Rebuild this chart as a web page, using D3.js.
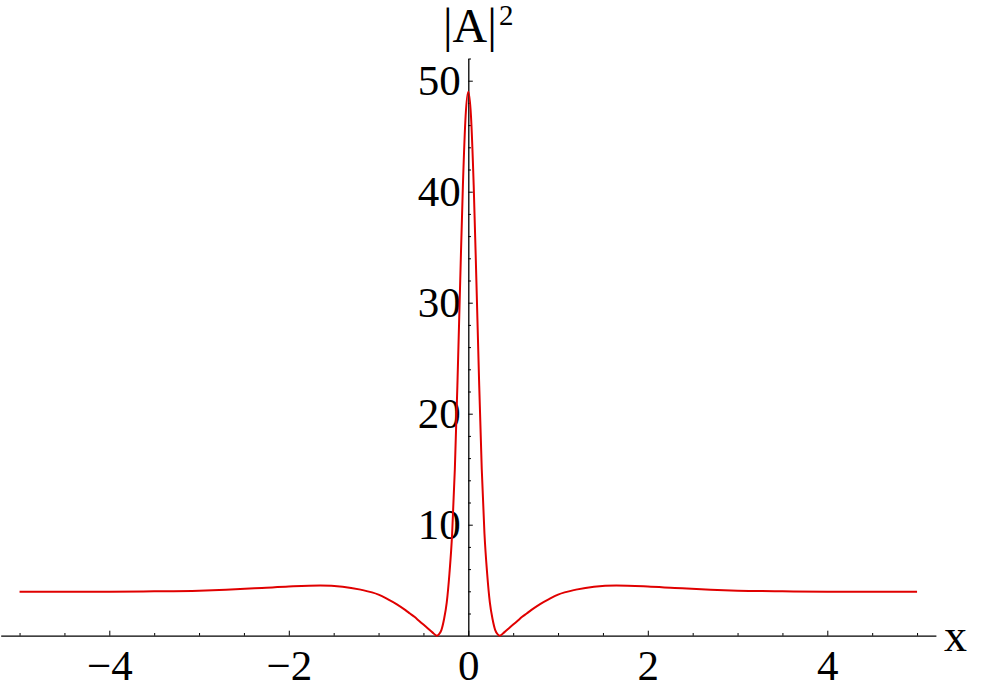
<!DOCTYPE html>
<html>
<head>
<meta charset="utf-8">
<script src="https://cdn.jsdelivr.net/npm/d3@7"></script>
<style>
  html, body { margin: 0; padding: 0; background: #fff; }
  svg { display: block; }
</style>
</head>
<body>
<svg id="chart" width="1000" height="692"></svg>
<script>
// ---- data ----
const xValues = [
  -5, -4, -3.5, -3, -2.7, -2.3, -2, -1.65, -1.4, -1.2, -1, -0.9, -0.8, -0.7, -0.65, -0.6,
  -0.55, -0.5, -0.45, -0.4, -0.35, -0.33, -0.3, -0.27, -0.24, -0.21, -0.18, -0.15, -0.12,
  -0.09, -0.06, -0.03, 0,
  0.03, 0.06, 0.09, 0.12, 0.15, 0.18, 0.21, 0.24, 0.27, 0.3, 0.33, 0.35, 0.4, 0.45, 0.5,
  0.55, 0.6, 0.65, 0.7, 0.8, 0.9, 1, 1.2, 1.4, 1.65, 2, 2.3, 2.7, 3, 3.5, 4, 5
];
const intensity = [
  3.96, 3.97, 4.0, 4.06, 4.14, 4.3, 4.43, 4.52, 4.42, 4.15, 3.7, 3.3, 2.85, 2.3, 2.0, 1.7,
  1.35, 1.0, 0.65, 0.3, 0, 0.1, 0.5, 1.5, 3.0, 5.6, 9.2, 15.0, 23.0,
  32.0, 40.6, 46.8, 49,
  46.8, 40.6, 32.0, 23.0, 15.0, 9.2, 5.6, 3.0, 1.5, 0.5, 0.1, 0, 0.3, 0.65, 1.0,
  1.35, 1.7, 2.0, 2.3, 2.85, 3.3, 3.7, 4.15, 4.42, 4.52, 4.43, 4.3, 4.14, 4.06, 4.0, 3.97, 3.96
];
const xMajorTicks = [-4, -2, 0, 2, 4];
const xMinorTicks = [-5, -4.5, -3.5, -3, -2.5, -1.5, -1, -0.5, 0.5, 1, 1.5, 2.5, 3, 3.5, 4.5, 5];
const yMajorTicks = [10, 20, 30, 40, 50];
const yMinorTicks = [2, 4, 6, 8, 12, 14, 16, 18, 22, 24, 26, 28, 32, 34, 36, 38, 42, 44, 46, 48, 52];
const xLabel = "x";
const yLabel = "|A|";
const yLabelSup = "2";

// ---- drawing ----
const svg = d3.select("#chart");
const fontFamily = "'Liberation Serif', 'Times New Roman', serif";

const x = d3.scaleLinear().domain([-5.21, 5.21]).range([0.7, 935.9]);
const y = d3.scaleLinear().domain([0, 52]).range([635.7, 58.5]);

// x axis (ticks point up into the plot)
const gx = svg.append("g").attr("transform", `translate(0,${y(0)})`);
gx.call(d3.axisBottom(x).tickValues(xMajorTicks).tickSizeInner(-5).tickSizeOuter(0)
  .tickPadding(14).tickFormat(d3.format("d")));
const gxm = svg.append("g").attr("transform", `translate(0,${y(0)})`);
gxm.call(d3.axisBottom(x).tickValues(xMinorTicks).tickSizeInner(-2.7).tickSizeOuter(0)
  .tickFormat(""));
gxm.select(".domain").remove();

// y axis (ticks point right into the plot)
const gy = svg.append("g").attr("transform", `translate(${x(0)},0)`);
gy.call(d3.axisLeft(y).tickValues(yMajorTicks).tickSizeInner(-4.5).tickSizeOuter(0)
  .tickPadding(7.5).tickFormat(d3.format("d")));
const gym = svg.append("g").attr("transform", `translate(${x(0)},0)`);
gym.call(d3.axisLeft(y).tickValues(yMinorTicks).tickSizeInner(-2.7).tickSizeOuter(0)
  .tickFormat(""));
gym.select(".domain").remove();

svg.selectAll(".domain").attr("stroke", "#000").attr("stroke-width", 1.3);
svg.selectAll(".tick line").attr("stroke", "#000").attr("stroke-width", 1);
svg.selectAll(".tick text")
  .attr("font-family", fontFamily)
  .attr("font-size", 43)
  .attr("fill", "#000");

// curve
const line = d3.line()
  .x((d, i) => x(xValues[i]))
  .y(d => y(d))
  .curve(d3.curveMonotoneX);

svg.append("path")
  .datum(intensity)
  .attr("d", line)
  .attr("fill", "none")
  .attr("stroke", "#e00000")
  .attr("stroke-width", 2);

// axis labels
svg.append("text")
  .attr("x", 944).attr("y", 651)
  .attr("font-family", fontFamily)
  .attr("font-size", 46)
  .text(xLabel);

svg.append("text")
  .attr("x", 443).attr("y", 42)
  .attr("font-family", fontFamily)
  .attr("font-size", 48)
  .text(yLabel);
svg.append("text")
  .attr("x", 499).attr("y", 25)
  .attr("font-family", fontFamily)
  .attr("font-size", 29)
  .text(yLabelSup);
</script>
</body>
</html>
